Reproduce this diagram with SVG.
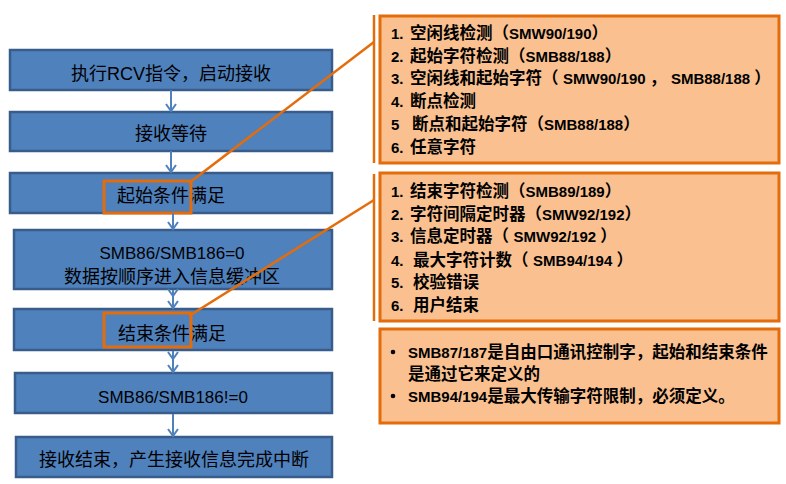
<svg xmlns="http://www.w3.org/2000/svg" width="786" height="484" viewBox="0 0 786 484">
<style>
.box{fill:#4F81BD;stroke:#385D8A;stroke-width:2.5}
.bt{font-family:"Liberation Sans","Noto Sans CJK SC",sans-serif;font-size:18px;fill:#000;text-anchor:middle}
.bl{font-size:17px}
.arr{fill:none;stroke:#4F81BD;stroke-width:2}
.hl{fill:none;stroke:#E46C0A;stroke-width:3}
.ol{fill:none;stroke:#E46C0A;stroke-width:2.5}
.panel{fill:#FAC090;stroke:#E46C0A;stroke-width:3}
.pt{font-family:"Liberation Sans","Noto Sans CJK SC",sans-serif;font-size:16.5px;font-weight:bold;fill:#000}
.l{font-size:15px}
</style>
<rect width="786" height="484" fill="#fff"/>
<g id="n1"><rect class="box" x="10" y="50" width="322" height="40"/><text class="bt" x="171" y="80">执行RCV指令，启动接收</text></g>
<g id="n2"><rect class="box" x="10" y="112" width="322" height="39"/><text class="bt" x="171" y="140">接收等待</text></g>
<g id="n3"><rect class="box" x="10" y="173" width="322" height="40"/><text class="bt" x="171" y="202">起始条件满足</text><rect class="hl" x="104" y="181" width="87" height="32"/></g>
<g id="n4"><rect class="box" x="14" y="230" width="318" height="59"/><text class="bt bl" x="172" y="259">SMB86/SMB186=0</text><text class="bt" x="172" y="283">数据按顺序进入信息缓冲区</text></g>
<g id="n5"><rect class="box" x="14" y="309" width="318" height="41"/><text class="bt" x="172" y="340">结束条件满足</text><rect class="hl" x="104" y="313" width="87" height="34"/></g>
<g id="n6"><rect class="box" x="15" y="373" width="317" height="40"/><text class="bt bl" x="173" y="403">SMB86/SMB186!=0</text></g>
<g id="n7"><rect class="box" x="16" y="437" width="316" height="40"/><text class="bt" x="174" y="466">接收结束，产生接收信息完成中断</text></g>
<g id="p1">
<rect class="panel" x="380" y="16" width="399" height="147"/>
<text class="pt" y="39"><tspan class="l" x="391">1.</tspan><tspan x="410">空闲线检测（</tspan><tspan class="l">SMW90/190</tspan>）</text>
<text class="pt" y="62"><tspan class="l" x="391">2.</tspan><tspan x="410">起始字符检测（</tspan><tspan class="l">SMB88/188</tspan>）</text>
<text class="pt" y="84"><tspan class="l" x="391">3.</tspan><tspan x="410">空闲线和起始字符（ </tspan><tspan class="l">SMW90/190 </tspan>， <tspan class="l">SMB88/188 </tspan>）</text>
<text class="pt" y="107"><tspan class="l" x="391">4.</tspan><tspan x="410">断点检测</tspan></text>
<text class="pt" y="130"><tspan class="l" x="391">5</tspan><tspan x="412">断点和起始字符（</tspan><tspan class="l">SMB88/188</tspan>）</text>
<text class="pt" y="153"><tspan class="l" x="391">6.</tspan><tspan x="410">任意字符</tspan></text>
</g>
<g id="p2">
<rect class="panel" x="380" y="173" width="399" height="148"/>
<text class="pt" y="197"><tspan class="l" x="391">1.</tspan><tspan x="410">结束字符检测（</tspan><tspan class="l">SMB89/189</tspan>）</text>
<text class="pt" y="220"><tspan class="l" x="391">2.</tspan><tspan x="410">字符间隔定时器（</tspan><tspan class="l">SMW92/192</tspan>）</text>
<text class="pt" y="242"><tspan class="l" x="391">3.</tspan><tspan x="410">信息定时器（ </tspan><tspan class="l">SMW92/192 </tspan>）</text>
<text class="pt" y="266"><tspan class="l" x="391">4.</tspan><tspan x="413">最大字符计数（ </tspan><tspan class="l">SMB94/194 </tspan>）</text>
<text class="pt" y="288"><tspan class="l" x="391">5.</tspan><tspan x="413">校验错误</tspan></text>
<text class="pt" y="311"><tspan class="l" x="391">6.</tspan><tspan x="413">用户结束</tspan></text>
</g>
<g id="p3">
<rect class="panel" x="380" y="329" width="399" height="94"/>
<circle cx="393" cy="352" r="2.3" fill="#000"/>
<circle cx="393" cy="396" r="2.3" fill="#000"/>
<text class="pt" y="358"><tspan class="l" x="408">SMB87/187</tspan>是自由口通讯控制字，起始和结束条件</text>
<text class="pt" y="380"><tspan x="408">是通过它来定义的</tspan></text>
<text class="pt" y="402"><tspan class="l" x="408">SMB94/194</tspan>是最大传输字符限制，必须定义。</text>
</g>
<g id="connectors">
<path class="arr" d="M171,90V111M166,104L171,111L176,104"/>
<path class="arr" d="M171,151V172M166,165L171,172L176,165"/>
<path class="arr" d="M173,213V229M168,222L173,229L178,222"/>
<path class="arr" d="M173,290V308M168,289L173,296L178,289M168,301L173,308L178,301"/>
<path class="arr" d="M173,351V372M168,352L173,359L178,352M168,365L173,372L178,365"/>
<path class="arr" d="M173,414V436M168,429L173,436L178,429"/>
<path class="ol" d="M189,183L374,42"/>
<path class="ol" d="M189,316L374,200"/>
<path class="ol" d="M374,15V163"/>
<path class="ol" d="M374,174V321"/>
</g>
</svg>
